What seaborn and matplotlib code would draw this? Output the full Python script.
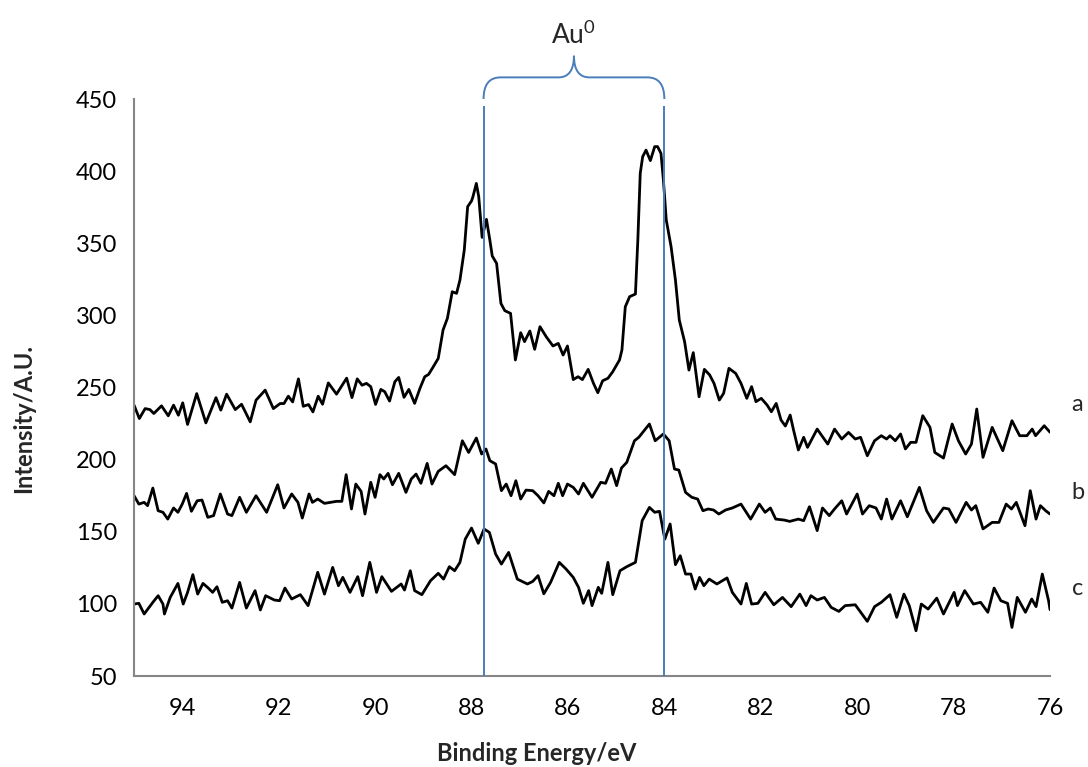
import numpy as np
import pandas as pd
import matplotlib
matplotlib.use("Agg")
import matplotlib.pyplot as plt
from matplotlib.path import Path
from matplotlib.patches import PathPatch
import seaborn as sns

# XPS Au 4f spectra
a_energy = [95.00, 94.89, 94.77, 94.67, 94.59, 94.43, 94.29, 94.18, 94.08, 93.99,
            93.89, 93.70, 93.51, 93.30, 93.20, 93.08, 92.90, 92.77, 92.59, 92.47,
            92.28, 92.11, 91.97, 91.89, 91.80, 91.71, 91.59, 91.49, 91.38, 91.29,
            91.18, 91.09, 90.97, 90.80, 90.59, 90.48, 90.37, 90.27, 90.18, 90.09,
            89.99, 89.88, 89.80, 89.70, 89.59, 89.51, 89.40, 89.30, 89.18, 89.07,
            88.97, 88.89, 88.80, 88.69, 88.59, 88.50, 88.40, 88.31, 88.24, 88.15,
            88.08, 88.00, 87.97, 87.90, 87.85, 87.78, 87.69, 87.62, 87.57, 87.48,
            87.39, 87.31, 87.19, 87.09, 86.98, 86.90, 86.79, 86.69, 86.58, 86.45,
            86.31, 86.20, 86.10, 86.01, 85.89, 85.79, 85.70, 85.58, 85.47, 85.38,
            85.28, 85.17, 85.07, 84.93, 84.88, 84.81, 84.72, 84.60, 84.55, 84.50,
            84.45, 84.38, 84.29, 84.20, 84.14, 84.07, 84.02, 83.96, 83.86, 83.77,
            83.69, 83.58, 83.49, 83.40, 83.28, 83.17, 83.06, 82.97, 82.86, 82.77,
            82.66, 82.52, 82.41, 82.29, 82.19, 82.10, 81.99, 81.87, 81.78, 81.68,
            81.58, 81.49, 81.39, 81.32, 81.22, 81.11, 81.03, 80.83, 80.61, 80.47,
            80.32, 80.18, 80.04, 79.93, 79.79, 79.64, 79.50, 79.39, 79.32, 79.21,
            79.10, 79.00, 78.89, 78.78, 78.64, 78.49, 78.39, 78.21, 78.03, 77.90,
            77.75, 77.63, 77.52, 77.39, 77.20, 76.98, 76.79, 76.63, 76.48, 76.37,
            76.30, 76.12, 76.00]
a_counts = [237.8, 228.5, 235.4, 234.7, 232.0, 237.3, 230.4, 237.8, 230.8, 239.4,
            224.4, 245.8, 225.5, 243.0, 234.3, 245.4, 234.7, 238.4, 226.2, 241.2,
            248.2, 235.4, 238.9, 238.9, 244.0, 240.0, 256.0, 237.0, 238.2, 233.1,
            244.0, 238.4, 253.2, 245.4, 256.5, 243.0, 256.0, 251.6, 252.9, 250.6,
            238.3, 248.7, 247.1, 240.6, 254.0, 257.0, 243.2, 248.7, 239.0, 249.4,
            257.5, 259.1, 264.0, 270.2, 289.9, 298.0, 316.4, 315.3, 324.5, 345.3,
            375.4, 379.3, 382.3, 391.5, 382.3, 354.1, 366.6, 352.3, 341.2, 336.1,
            308.3, 303.3, 301.4, 269.1, 288.0, 281.8, 289.2, 276.5, 292.2, 285.2,
            278.8, 280.6, 272.5, 278.8, 255.5, 257.5, 255.5, 262.6, 252.9, 246.4,
            254.7, 256.4, 261.0, 269.1, 276.0, 306.0, 313.0, 314.8, 352.3, 398.5,
            410.0, 414.6, 407.3, 417.0, 417.0, 412.3, 393.9, 366.1, 347.6, 324.5,
            296.8, 281.8, 262.1, 274.2, 243.6, 262.6, 258.7, 252.9, 241.3, 246.0,
            263.3, 259.8, 252.9, 242.5, 250.6, 240.2, 242.5, 237.9, 233.2, 239.0,
            227.5, 223.3, 230.9, 220.5, 206.7, 215.5, 208.5, 221.2, 210.8, 221.2,
            214.3, 218.9, 214.3, 215.5, 202.7, 213.1, 216.6, 214.3, 216.6, 213.1,
            217.8, 207.4, 212.0, 212.0, 230.5, 222.4, 205.0, 201.1, 224.7, 213.1,
            203.9, 210.8, 235.1, 201.6, 222.4, 206.2, 227.0, 216.6, 216.6, 221.2,
            216.6, 223.5, 219.0]

b_energy = [95.00, 94.90, 94.79, 94.72, 94.61, 94.50, 94.40, 94.30, 94.18, 94.09,
            94.00, 93.91, 93.81, 93.69, 93.59, 93.47, 93.35, 93.21, 93.06, 92.97,
            92.81, 92.67, 92.47, 92.25, 92.02, 91.89, 91.73, 91.60, 91.51, 91.37,
            91.30, 91.19, 91.05, 90.80, 90.69, 90.60, 90.49, 90.40, 90.29, 90.21,
            90.09, 90.00, 89.90, 89.82, 89.73, 89.64, 89.51, 89.36, 89.25, 89.15,
            89.05, 88.92, 88.82, 88.69, 88.53, 88.35, 88.19, 88.06, 87.90, 87.79,
            87.70, 87.62, 87.50, 87.38, 87.28, 87.18, 87.08, 86.98, 86.87, 86.73,
            86.62, 86.50, 86.40, 86.29, 86.20, 86.11, 86.01, 85.89, 85.78, 85.68,
            85.50, 85.32, 85.22, 85.10, 84.99, 84.89, 84.78, 84.62, 84.53, 84.42,
            84.31, 84.19, 84.02, 83.90, 83.79, 83.70, 83.56, 83.43, 83.31, 83.20,
            83.09, 82.98, 82.87, 82.73, 82.59, 82.41, 82.21, 82.03, 81.91, 81.80,
            81.69, 81.51, 81.40, 81.22, 81.11, 80.99, 80.83, 80.72, 80.58, 80.47,
            80.32, 80.22, 80.00, 79.89, 79.75, 79.61, 79.50, 79.39, 79.28, 79.10,
            78.96, 78.71, 78.56, 78.42, 78.21, 78.10, 77.95, 77.74, 77.63, 77.54,
            77.39, 77.20, 77.06, 76.91, 76.80, 76.70, 76.52, 76.41, 76.29, 76.20,
            76.09, 76.00]
b_counts = [175.0, 169.2, 170.4, 168.1, 180.3, 164.6, 163.5, 158.8, 166.5, 163.5,
            169.2, 176.6, 164.2, 171.5, 172.0, 160.0, 161.2, 176.2, 162.3, 161.2,
            173.9, 163.5, 175.0, 163.5, 182.6, 166.5, 176.2, 170.4, 159.5, 176.2,
            170.4, 172.7, 169.7, 171.1, 171.1, 189.6, 165.8, 183.1, 178.0, 162.3,
            184.3, 173.9, 189.6, 186.6, 190.5, 182.6, 190.5, 177.3, 186.6, 190.0,
            183.6, 197.4, 183.1, 191.9, 195.8, 189.6, 213.1, 205.0, 215.0, 203.9,
            207.4, 199.3, 197.0, 178.5, 183.1, 175.0, 185.4, 172.7, 178.9, 178.5,
            175.0, 170.0, 178.0, 175.0, 183.6, 175.0, 183.1, 180.8, 176.2, 183.6,
            173.9, 184.3, 183.6, 193.5, 182.0, 194.2, 198.1, 213.1, 215.5, 220.1,
            224.7, 213.1, 217.8, 213.1, 193.5, 192.8, 177.3, 173.9, 172.7, 164.6,
            165.8, 165.1, 162.3, 165.1, 166.5, 169.2, 158.8, 169.2, 163.5, 166.5,
            158.8, 158.1, 157.2, 158.8, 157.7, 167.4, 150.8, 166.5, 161.2, 165.8,
            171.5, 162.3, 176.2, 162.3, 168.1, 166.5, 158.8, 172.7, 158.8, 171.5,
            160.4, 180.8, 164.6, 156.5, 166.5, 165.8, 156.5, 170.4, 165.1, 168.1,
            152.0, 156.5, 156.5, 169.2, 165.8, 170.4, 154.2, 178.5, 158.8, 168.1,
            164.6, 162.3]

c_energy = [95.00, 94.90, 94.79, 94.61, 94.50, 94.40, 94.37, 94.25, 94.09, 93.98,
            93.89, 93.78, 93.68, 93.57, 93.46, 93.37, 93.28, 93.17, 93.06, 92.97,
            92.81, 92.67, 92.49, 92.38, 92.27, 92.09, 91.98, 91.87, 91.73, 91.55,
            91.39, 91.19, 91.05, 90.88, 90.76, 90.67, 90.52, 90.36, 90.26, 90.11,
            89.97, 89.86, 89.66, 89.46, 89.39, 89.27, 89.18, 89.03, 88.85, 88.69,
            88.58, 88.46, 88.35, 88.24, 88.13, 88.00, 87.86, 87.74, 87.63, 87.50,
            87.38, 87.23, 87.05, 86.84, 86.73, 86.62, 86.50, 86.36, 86.18, 86.04,
            85.89, 85.78, 85.68, 85.57, 85.50, 85.37, 85.30, 85.17, 85.07, 84.92,
            84.78, 84.60, 84.46, 84.31, 84.20, 84.10, 83.99, 83.88, 83.77, 83.67,
            83.56, 83.45, 83.36, 83.27, 83.18, 83.07, 82.91, 82.70, 82.59, 82.41,
            82.30, 82.19, 82.06, 81.91, 81.73, 81.55, 81.37, 81.19, 81.06, 80.96,
            80.83, 80.68, 80.54, 80.38, 80.25, 80.04, 79.79, 79.64, 79.50, 79.32,
            79.18, 79.03, 78.92, 78.78, 78.67, 78.53, 78.35, 78.21, 77.99, 77.92,
            77.77, 77.59, 77.44, 77.29, 77.16, 77.02, 76.88, 76.79, 76.68, 76.51,
            76.38, 76.29, 76.16, 76.03, 76.00]
c_counts = [99.9, 100.4, 93.0, 101.1, 105.7, 99.9, 93.0, 104.5, 114.2, 99.9,
            108.0, 120.3, 106.8, 114.2, 111.0, 108.0, 111.9, 101.1, 102.2, 97.1,
            114.9, 97.1, 109.2, 95.8, 105.7, 102.7, 102.2, 111.0, 103.4, 106.4,
            98.8, 121.9, 106.8, 125.3, 112.6, 118.4, 108.0, 118.9, 105.7, 128.8,
            108.0, 118.9, 108.7, 113.8, 109.6, 123.0, 109.2, 106.4, 116.1, 121.2,
            117.2, 125.8, 123.0, 128.8, 144.9, 152.6, 142.0, 151.9, 149.6, 134.6,
            127.6, 135.7, 117.2, 113.8, 115.6, 119.6, 107.0, 114.9, 128.8, 124.2,
            118.4, 111.5, 100.4, 109.2, 98.8, 111.5, 107.3, 128.8, 106.4, 123.0,
            125.8, 128.8, 157.7, 166.9, 163.5, 164.2, 144.9, 155.4, 127.2, 133.4,
            120.7, 120.7, 110.3, 118.4, 112.6, 117.2, 113.8, 118.0, 108.0, 99.9,
            114.2, 99.9, 100.4, 108.0, 99.4, 104.5, 98.1, 106.8, 98.8, 105.7,
            102.7, 104.5, 97.6, 94.8, 98.8, 99.4, 87.9, 98.1, 101.1, 106.4,
            90.7, 106.8, 98.8, 81.4, 99.9, 96.4, 104.0, 93.0, 108.0, 98.8,
            109.2, 99.9, 101.1, 94.2, 111.0, 102.2, 100.4, 83.7, 104.5, 94.2,
            103.4, 98.1, 120.7, 102.2, 96.0]

sample_names = ["a", "b", "c"]
label_y = [238, 177, 111]
au_peaks = [87.75, 84.0]

df = pd.concat([
    pd.DataFrame({"energy": a_energy, "intensity": a_counts, "sample": "a"}),
    pd.DataFrame({"energy": b_energy, "intensity": b_counts, "sample": "b"}),
    pd.DataFrame({"energy": c_energy, "intensity": c_counts, "sample": "c"}),
])

sns.set_style("white")
plt.rcParams["font.family"] = ["Lato", "DejaVu Sans"]
plt.rcParams["mathtext.default"] = "regular"

fig = plt.figure(figsize=(10.88, 7.67), dpi=100)
ax = fig.add_axes([0.1232, 0.1186, 0.8419, 0.7523])

sns.lineplot(data=df, x="energy", y="intensity", units="sample", estimator=None,
             sort=False, color="black", linewidth=2.0, ax=ax)
for line in ax.get_lines():
    line.set_solid_joinstyle("round")

blue = "#4A7EBB"
ax.vlines(au_peaks, 50, 445, color=blue, linewidth=1.4, zorder=3)

# curly brace over the two Au 4f peaks
xl, xr = au_peaks
xm = (xl + xr) / 2
verts = [(xl, 450), (xl, 465), (xl - 0.35, 465),
         (xm + 0.32, 465), (xm, 465), (xm, 480),
         (xm, 465), (xm - 0.32, 465),
         (xr + 0.35, 465), (xr, 465), (xr, 450)]
codes = [Path.MOVETO, Path.CURVE3, Path.CURVE3,
         Path.LINETO, Path.CURVE3, Path.CURVE3,
         Path.CURVE3, Path.CURVE3,
         Path.LINETO, Path.CURVE3, Path.CURVE3]
ax.add_patch(PathPatch(Path(verts, codes), facecolor="none", edgecolor=blue,
                       linewidth=1.4, clip_on=False))
ax.text(xm, 485, "Au$^0$", ha="center", va="bottom", fontsize=19, clip_on=False)

for name, y in zip(sample_names, label_y):
    ax.text(75.55, y, name, ha="left", va="center", fontsize=17, clip_on=False)

ax.set_xlim(95, 76)
ax.set_ylim(50, 450)
ax.set_xticks(range(76, 96))
ax.set_xticklabels([str(v) if v % 2 == 0 else "" for v in range(76, 96)])
ax.set_yticks(range(50, 451, 50))

gray = "#868686"
for side in ["top", "right"]:
    ax.spines[side].set_visible(False)
for side in ["left", "bottom"]:
    ax.spines[side].set_color(gray)
    ax.spines[side].set_linewidth(1.5)
ax.tick_params(axis="both", direction="out", length=6, width=1.5, color=gray,
               labelsize=17, labelcolor="black", pad=6)
ax.tick_params(axis="x", pad=10)

ax.set_xlabel("Binding Energy/eV", fontsize=17, fontweight="bold")
ax.set_ylabel("Intensity/A.U.", fontsize=17, fontweight="bold")
ax.xaxis.set_label_coords(0.44, -0.115)
ax.yaxis.set_label_coords(-0.108, 0.447)
ax.get_legend() and ax.get_legend().remove()

fig.savefig("out.png", dpi=100)
